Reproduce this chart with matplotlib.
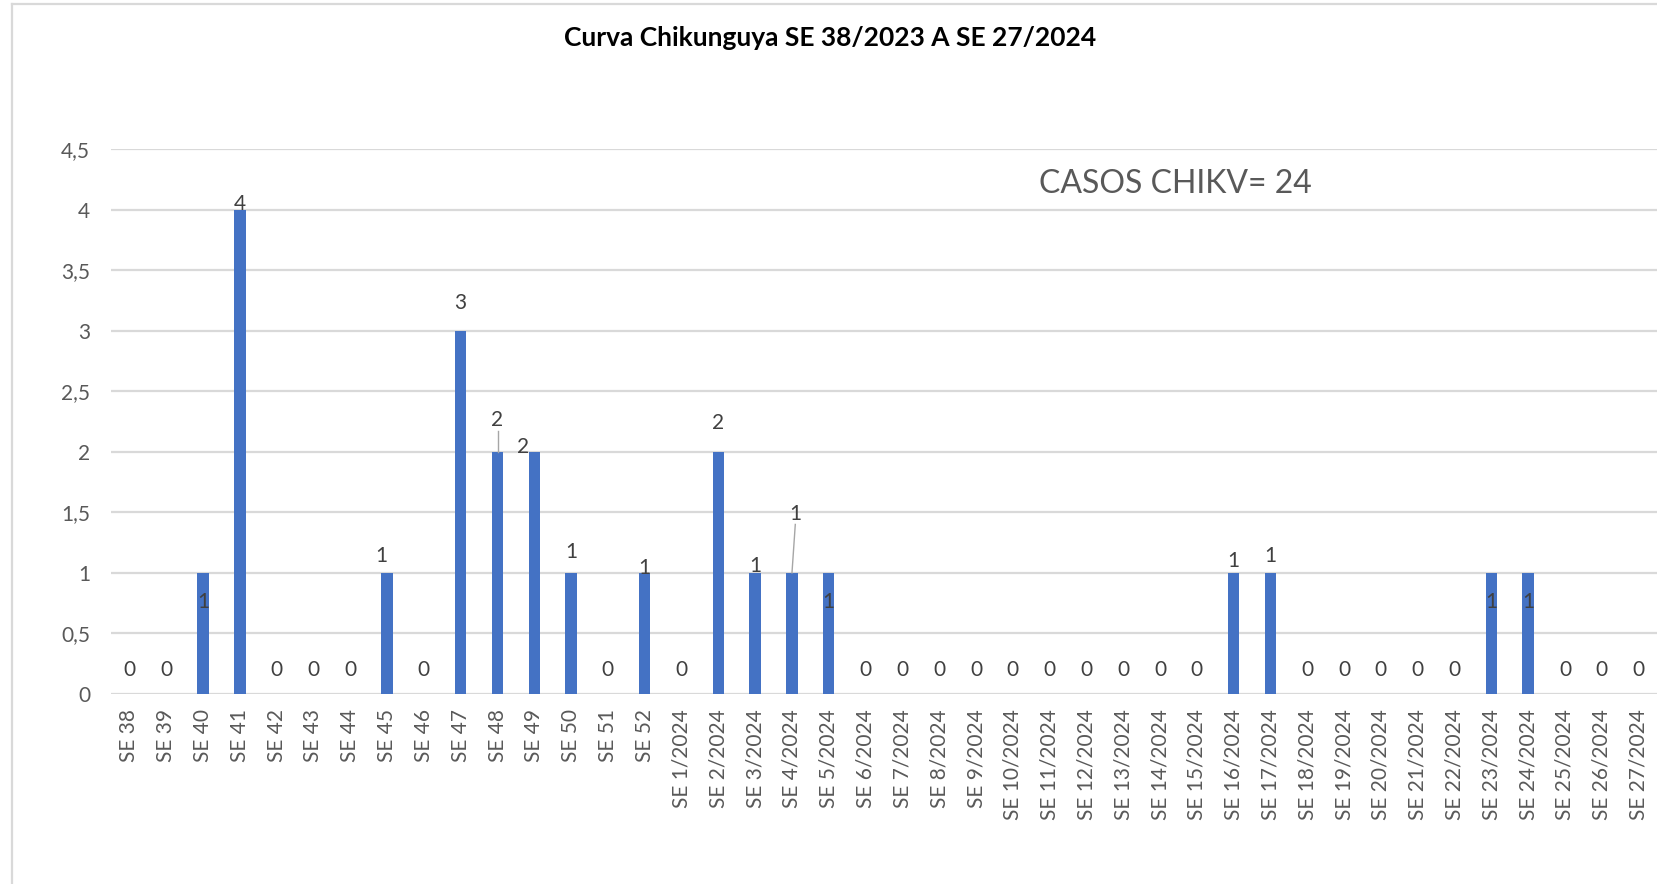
import matplotlib.pyplot as plt
from matplotlib.lines import Line2D

# Data
weeks = ["SE 38", "SE 39", "SE 40", "SE 41", "SE 42", "SE 43", "SE 44", "SE 45",
         "SE 46", "SE 47", "SE 48", "SE 49", "SE 50", "SE 51", "SE 52"] + \
        [f"SE {i}/2024" for i in range(1, 28)]
cases = [0, 0, 1, 4, 0, 0, 0, 1, 0, 3, 2, 2, 1, 0, 1,
         0, 2, 1, 1, 1, 0, 0, 0, 0, 0, 0, 0, 0, 0, 0,
         1, 1, 0, 0, 0, 0, 0, 1, 1, 0, 0, 0]
yticks = [0, 0.5, 1, 1.5, 2, 2.5, 3, 3.5, 4, 4.5]
ytick_labels = ["0", "0,5", "1", "1,5", "2", "2,5", "3", "3,5", "4", "4,5"]
title = "Curva Chikunguya SE 38/2023 A SE 27/2024"
note = "CASOS CHIKV= 24"

# Excel-style label placement: (dx, dy) offsets from bar top, in data units
label_shift = {0: (0, 0.2), 2: (0, -0.24), 3: (0, 0.05), 7: (-0.15, 0.14),
               9: (0, 0.23), 10: (0, 0.26), 11: (-0.3, 0.04), 12: (0, 0.17),
               14: (0, 0.04), 16: (0, 0.24), 17: (0, 0.06), 18: (0.1, 0.49),
               19: (0, -0.24), 30: (0, 0.1), 31: (0, 0.14), 37: (0, -0.24),
               38: (0, -0.24)}
leaders = {10: 0.17, 18: 0.4}

BLUE = "#4472C4"
GRID = "#d9d9d9"
TXT = "#595959"
LBL = "#404040"

plt.rcParams['font.family'] = ['Lato', 'DejaVu Sans']

fig = plt.figure(figsize=(16.57, 8.84), dpi=100)
ax = fig.add_axes([111 / 1657, 1 - 694 / 884, 1 - 111 / 1657, (694 - 149) / 884])

x = list(range(len(weeks)))
ax.bar(x, cases, width=0.31, color=BLUE, zorder=3)

for i, v in enumerate(cases):
    if v == 0:
        dx, dy = label_shift[0]
    else:
        dx, dy = label_shift.get(i, (0, 0.14))
    ax.text(i + dx, v + dy, str(v), ha='center', va='center', fontsize=15,
            color=LBL, zorder=4)
    if i in leaders:
        ax.plot([i + dx * 0.9, i], [v + leaders[i], v], color="#a6a6a6", lw=1, zorder=4)

ax.set_xlim(-0.5, len(weeks) - 0.5)
ax.set_ylim(0, 4.5)
ax.set_yticks(yticks)
ax.set_yticklabels(ytick_labels)
ax.set_xticks(x)
ax.set_xticklabels(weeks, rotation=90)
ax.tick_params(axis='y', length=0, pad=15, labelsize=15, labelcolor=TXT)
ax.tick_params(axis='x', length=0, pad=11, labelsize=15, labelcolor=TXT)
ax.grid(axis='y', color=GRID, lw=1.6, zorder=0)
ax.set_axisbelow(True)
for s in ax.spines.values():
    s.set_visible(False)

ax.text(0.60, 0.935, note, transform=ax.transAxes, fontsize=23, color=TXT,
        ha='left', va='center')

fig.text(830 / 1657, 1 - 38 / 884, title, ha='center', va='center',
         fontsize=19, fontweight='bold', color='black')

# chart area border (top and left visible)
fig.add_artist(Line2D([12 / 1657, 1], [1 - 4 / 884, 1 - 4 / 884], color=GRID, lw=1.6,
                      transform=fig.transFigure))
fig.add_artist(Line2D([12 / 1657, 12 / 1657], [0, 1 - 4 / 884], color=GRID, lw=1.6,
                      transform=fig.transFigure))

plt.savefig("out.png", dpi=100)
